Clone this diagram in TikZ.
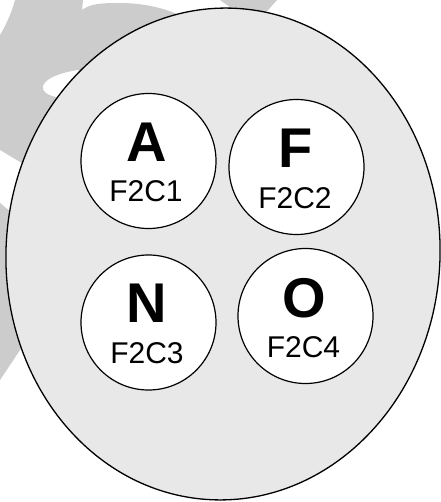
\documentclass[tikz,border=0pt]{standalone}
\usepackage{fontspec}
\setmainfont{Liberation Sans}
\definecolor{swirl}{HTML}{CCCCCC}
\definecolor{cellfill}{HTML}{E8E8E8}
\tikzset{
  cell/.style={circle, draw, line width=1.2pt, fill=white, minimum size=135pt, inner sep=0pt},
  bigletter/.style={font=\fontsize{56}{56}\selectfont\bfseries, inner sep=0pt},
  tag/.style={font=\fontsize{30}{30}\selectfont, inner sep=0pt}
}
\begin{document}
\begin{tikzpicture}[x=1pt,y=-1pt]
\useasboundingbox (0,0) rectangle (440,502);
\fill[white] (0,0) rectangle (440,502);

% background swirl pieces
\fill[swirl] (15,0) -- (83,0) -- (82,10)
  .. controls (90,4) and (100,3) .. (120,3)
  .. controls (140,3) and (165,7) .. (185,18)
  -- (150,120) -- (30,168) -- (0,150) -- (0,35)
  .. controls (6,25) and (12,12) .. (15,0) -- cycle;
\fill[white] (78,70) .. controls (60,73) and (46,78) .. (43,86)
  .. controls (42,92) and (48,95) .. (56,97) -- (75,100) -- (95,75) -- cycle;
\fill[swirl] (220,0) -- (277,0) -- (255,25) -- cycle;
\fill[swirl] (0,203) -- (24,223) -- (30,335) -- (0,380) -- cycle;

% outer cell
\begin{scope}[shift={(223,254)}, rotate=-3]
  \draw[line width=1.3pt, fill=cellfill] (0,0) ellipse [x radius=217pt, y radius=246pt];
\end{scope}

% inner cells
\node[cell] (c1) at (148.5,161) {};
\node[cell] (c2) at (296.5,167) {};
\node[cell] (c3) at (148.5,322.5) {};
\node[cell] (c4) at (305.5,316) {};

\node[bigletter] (l1) at (147,142.5) {A};
\node[tag] (t1) at (146,191) {F2C1};
\node[bigletter] (l2) at (296,148) {F};
\node[tag] (t2) at (295,198.5) {F2C2};
\node[bigletter] (l3) at (147,303.5) {N};
\node[tag] (t3) at (147,353) {F2C3};
\node[bigletter] (l4) at (304,298) {O};
\node[tag] (t4) at (303.5,347) {F2C4};
\end{tikzpicture}
\end{document}
